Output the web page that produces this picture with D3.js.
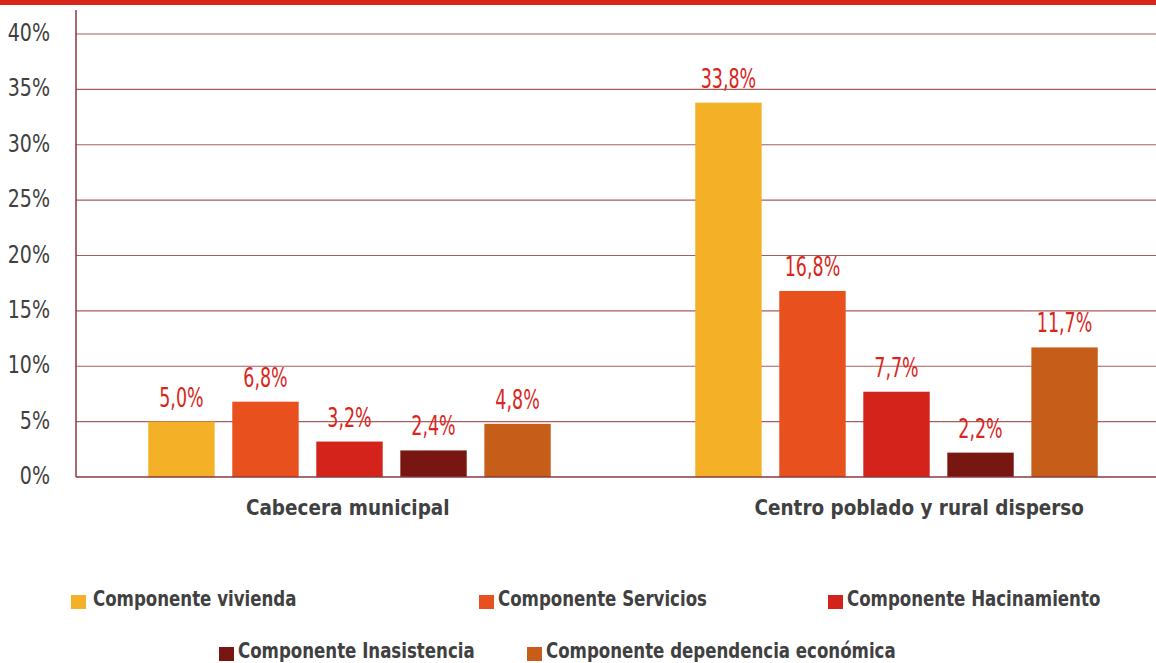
<!DOCTYPE html>
<html><head><meta charset="utf-8">
<script src="https://cdn.jsdelivr.net/npm/d3@7"></script>
<style>
html,body{margin:0;padding:0;background:#fff;}
svg text{font-family:"DejaVu Sans Condensed","DejaVu Sans",sans-serif;}
</style></head>
<body><svg id="c" width="1156" height="663"></svg>
<script>
const categories = ["Cabecera municipal", "Centro poblado y rural disperso"];
const seriesNames = ["Componente vivienda", "Componente Servicios", "Componente Hacinamiento", "Componente Inasistencia", "Componente dependencia económica"];
const cabecera = [5.0, 6.8, 3.2, 2.4, 4.8];
const rural = [33.8, 16.8, 7.7, 2.2, 11.7];
const colors = ["#f4b026", "#e8501e", "#d3231a", "#781612", "#c65e19"];
const yTicks = [0, 5, 10, 15, 20, 25, 30, 35, 40];

const svg = d3.select("#c");
const W = 1156, H = 663;
const values = [cabecera, rural];

function place(sel, x, y, sx){ return sel.attr("transform", `translate(${x},${y}) scale(${sx},1)`); }

// top red band
svg.append("rect").attr("x",0).attr("y",0).attr("width",W).attr("height",5).attr("fill","#d9261c");

const x0 = d3.scaleBand().domain(categories).range([76, 1170]);
const xLab = d3.scaleBand().domain(categories).range([62, 1205]);
const x1 = d3.scaleBand().domain(seriesNames).range([0, x0.bandwidth()]).paddingInner(0.21).paddingOuter(0.86);
const y = d3.scaleLinear().domain([0, 40]).range([477, 34]);

// gridlines
svg.append("g").selectAll("line").data(yTicks.filter(d=>d>0)).join("line")
  .attr("x1",76).attr("x2",W).attr("y1",d=>y(d)).attr("y2",d=>y(d))
  .attr("stroke","#a85c5c").attr("stroke-width",1.2);

// y axis labels
svg.append("g").selectAll("text").data(yTicks).join("text")
  .each(function(d){ place(d3.select(this), 50, y(d)+7, 0.88); })
  .attr("text-anchor","end").attr("font-size",24).attr("fill","#404040")
  .text(d=>d+"%");

// bars
const groups = svg.append("g").selectAll("g").data(categories).join("g")
  .attr("transform",d=>`translate(${x0(d)},0)`);
groups.selectAll("rect").data((d,i)=>values[i].map((v,j)=>({v, s:seriesNames[j], c:colors[j]}))).join("rect")
  .attr("x",d=>x1(d.s)).attr("width",x1.bandwidth())
  .attr("y",d=>y(d.v)).attr("height",d=>y(0)-y(d.v))
  .attr("fill",d=>d.c);
groups.selectAll("text").data((d,i)=>values[i].map((v,j)=>({v, s:seriesNames[j]}))).join("text")
  .each(function(d){ place(d3.select(this), x1(d.s)+x1.bandwidth()/2, y(d.v)-15, 0.72); })
  .attr("text-anchor","middle").attr("font-size",27).attr("fill","#d9261c")
  .text(d=>d.v.toFixed(1).replace(".",",")+"%");

// axis lines
svg.append("line").attr("x1",76).attr("x2",W).attr("y1",y(0)).attr("y2",y(0)).attr("stroke","#8b3a3a").attr("stroke-width",1.5);
svg.append("line").attr("x1",76).attr("x2",76).attr("y1",10).attr("y2",y(0)).attr("stroke","#8b3a3a").attr("stroke-width",1.5);

// category labels
svg.append("g").selectAll("text").data(categories).join("text")
  .each(function(d){ place(d3.select(this), xLab(d)+xLab.bandwidth()/2, 515, 0.93); })
  .attr("text-anchor","middle").attr("font-size",22).attr("font-weight","bold").attr("fill","#404040")
  .text(d=>d);

// legend
const legendPos = [[71,595],[479,595],[828,595],[219,647],[527,647]];
const lg = svg.append("g").selectAll("g").data(seriesNames).join("g")
  .attr("transform",(d,i)=>`translate(${legendPos[i][0]},${legendPos[i][1]})`);
lg.append("rect").attr("x",0).attr("y",0).attr("width",15).attr("height",14).attr("fill",(d,i)=>colors[i]);
lg.append("text").each(function(d,i){ place(d3.select(this), i===0 ? 22 : 19, 11, 0.88); })
  .attr("font-size",21).attr("font-weight","bold").attr("fill","#404040").text(d=>d);
</script></body></html>
